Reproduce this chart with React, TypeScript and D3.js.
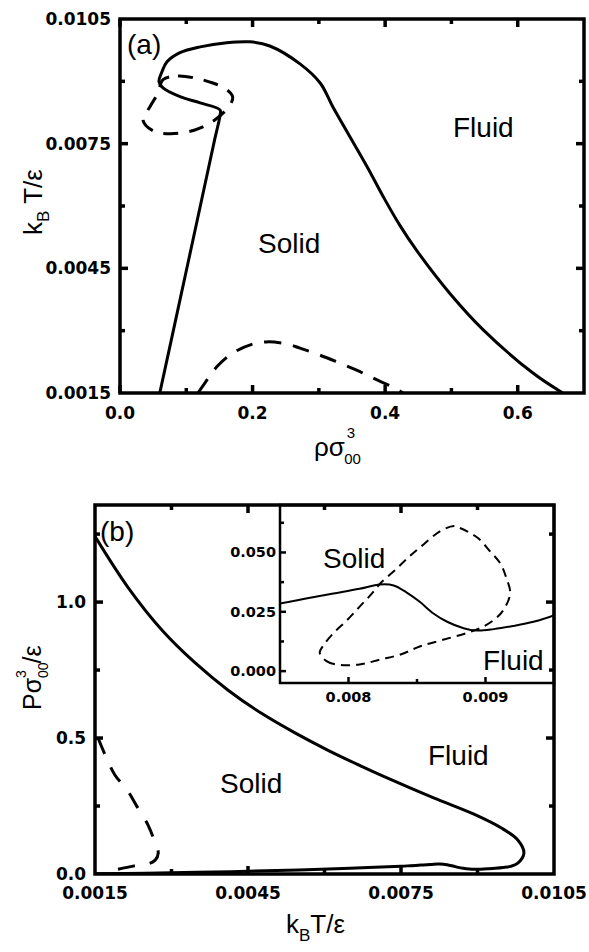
import * as d3 from "d3";

type Pt = [number, number];

// ---- panel (a): density vs temperature ----
const A_RHO_MAJOR = [0, 0.2, 0.4, 0.6];
const A_RHO_MINOR = [0.1, 0.3, 0.5];
const A_T_MAJOR = [0.0015, 0.0045, 0.0075, 0.0105];
const A_T_MINOR = [0.003, 0.006, 0.009];

// [rho, T]
const A_SOLID: Pt[] = [
  [0.06, 0.0015], [0.0905, 0.00374], [0.1232, 0.00615], [0.1427, 0.00759],
  [0.151, 0.00819], [0.151, 0.00831], [0.121, 0.00848], [0.0905, 0.00863],
  [0.0649, 0.00884], [0.0588, 0.00899], [0.0633, 0.00923], [0.0709, 0.00947],
  [0.0905, 0.00969], [0.121, 0.00983], [0.161, 0.00993], [0.196, 0.00995],
  [0.226, 0.00985], [0.2715, 0.00942], [0.302, 0.00896], [0.321, 0.00839],
  [0.373, 0.00694], [0.398, 0.0062], [0.422, 0.00554], [0.448, 0.00492],
  [0.498, 0.00389], [0.548, 0.00302], [0.623, 0.00198], [0.668, 0.0015],
];

const A_DASH_LOOP: Pt[] = [
  [0.0649, 0.00904], [0.0875, 0.00913], [0.113, 0.00908], [0.14, 0.00896],
  [0.161, 0.0088], [0.17, 0.00863], [0.166, 0.00843], [0.143, 0.00807],
  [0.113, 0.00783], [0.0754, 0.00774], [0.0498, 0.00781], [0.0347, 0.00807],
  [0.0452, 0.00839], [0.0573, 0.00872],
];

const A_DASH_ARCH: Pt[] = [
  [0.1176, 0.0015], [0.128, 0.00174], [0.146, 0.00213], [0.17, 0.00246],
  [0.2006, 0.00268], [0.2217, 0.00273], [0.252, 0.00268], [0.2715, 0.00258],
  [0.3017, 0.00241], [0.327, 0.00225], [0.357, 0.00205], [0.3816, 0.00186],
  [0.4118, 0.00164], [0.427, 0.0015],
];

// ---- panel (b): temperature vs pressure ----
const B_T_MAJOR = [0.0015, 0.0045, 0.0075, 0.0105];
const B_T_MINOR = [0.003, 0.006, 0.009];
const B_P_MAJOR = [0, 0.5, 1.0];
const B_P_MINOR = [0.25, 0.75, 1.25];

// [T, P]
const B_SOLID: Pt[] = [
  [0.0015, 1.242], [0.00215, 1.0535], [0.00282, 0.8955], [0.00346, 0.777],
  [0.00411, 0.676], [0.00478, 0.589], [0.00543, 0.518], [0.00608, 0.454],
  [0.00675, 0.394], [0.00716, 0.359], [0.00814, 0.28], [0.00893, 0.22],
  [0.00946, 0.17], [0.00979, 0.125], [0.00991, 0.077], [0.00979, 0.04],
  [0.00965, 0.028], [0.0095, 0.0236], [0.00935, 0.0208], [0.0092, 0.019],
  [0.00906, 0.0177], [0.00894, 0.0171], [0.00884, 0.0181], [0.00872, 0.0208],
  [0.00862, 0.0243], [0.00852, 0.0292], [0.00842, 0.0333], [0.00833, 0.0361],
  [0.00823, 0.0365], [0.00808, 0.0347], [0.00789, 0.0327], [0.00769, 0.0306],
  [0.0075, 0.0285], [0.0065, 0.021], [0.0055, 0.015], [0.0045, 0.01],
  [0.0035, 0.006], [0.0025, 0.003], [0.0015, 0.001],
];

const B_DASH: Pt[] = [
  [0.00156, 0.5], [0.0017, 0.4375], [0.00189, 0.364], [0.00213, 0.309],
  [0.00233, 0.246], [0.00254, 0.18], [0.00268, 0.114], [0.00274, 0.077],
  [0.00268, 0.051], [0.00254, 0.037], [0.00225, 0.029], [0.00189, 0.015],
];

// inset
const I_T_MAJOR = [0.008, 0.009];
const I_T_MINOR = [0.0085];
const I_P_MAJOR = [0, 0.025, 0.05];
const I_P_MINOR = [0.0125, 0.0375, 0.0625];

const I_DASH_LOOP: Pt[] = [
  [0.00779, 0.0077], [0.00784, 0.0042], [0.00791, 0.0028], [0.00808, 0.0028],
  [0.00823, 0.0049], [0.00838, 0.007], [0.00852, 0.0104], [0.00869, 0.0132],
  [0.00886, 0.016], [0.00896, 0.0181], [0.00906, 0.0215], [0.00913, 0.0257],
  [0.00918, 0.0327], [0.00915, 0.0396], [0.00911, 0.0452], [0.00903, 0.0507],
  [0.00894, 0.0563], [0.00881, 0.0604], [0.00877, 0.0611], [0.00867, 0.059],
  [0.00855, 0.0535], [0.00845, 0.0486], [0.00835, 0.0431], [0.00823, 0.0368],
  [0.00816, 0.032], [0.00808, 0.0271], [0.00799, 0.0215], [0.00789, 0.016],
  [0.00782, 0.0111],
];

const TICK_FONT = "'DejaVu Sans', sans-serif";
const TEXT_FONT = "'Liberation Sans', Arial, sans-serif";

type Lin = d3.ScaleLinear<number, number>;

function Frame({ x, y, xMajor, xMinor, yMajor, yMinor, sides, sw, major, minor }: {
  x: Lin; y: Lin; xMajor: number[]; xMinor: number[]; yMajor: number[]; yMinor: number[];
  sides: string; sw: number; major: number; minor: number;
}) {
  const [x0, x1] = x.range();
  const [y0, y1] = y.range(); // y0 = bottom, y1 = top
  const lines: JSX.Element[] = [];
  const xt = (v: number, len: number, k: string) => {
    if (sides.includes("b")) lines.push(<line key={"b" + k} x1={x(v)} x2={x(v)} y1={y0} y2={y0 - len} />);
    if (sides.includes("t")) lines.push(<line key={"t" + k} x1={x(v)} x2={x(v)} y1={y1} y2={y1 + len} />);
  };
  const yt = (v: number, len: number, k: string) => {
    if (sides.includes("l")) lines.push(<line key={"l" + k} x1={x0} x2={x0 + len} y1={y(v)} y2={y(v)} />);
    if (sides.includes("r")) lines.push(<line key={"r" + k} x1={x1} x2={x1 - len} y1={y(v)} y2={y(v)} />);
  };
  xMajor.forEach((v, i) => xt(v, major, "M" + i));
  xMinor.forEach((v, i) => xt(v, minor, "m" + i));
  yMajor.forEach((v, i) => yt(v, major, "M" + i));
  yMinor.forEach((v, i) => yt(v, minor, "m" + i));
  return (
    <g stroke="#000" fill="none">
      <g strokeWidth={sw}>{lines}</g>
      <rect x={x0} y={y1} width={x1 - x0} height={y0 - y1} strokeWidth={sw} />
    </g>
  );
}

export default function App() {
  // panel (a)
  const xa = d3.scaleLinear().domain([0, 0.7]).range([120, 584]);
  const ya = d3.scaleLinear().domain([0.0015, 0.0105]).range([393, 19]);
  const lineA = d3.line<Pt>().x(d => xa(d[0])).y(d => ya(d[1])).curve(d3.curveCatmullRom.alpha(0.5));
  const loopA = d3.line<Pt>().x(d => xa(d[0])).y(d => ya(d[1])).curve(d3.curveCatmullRomClosed.alpha(0.5));

  // panel (b)
  const xb = d3.scaleLinear().domain([0.0015, 0.0105]).range([95, 554]);
  const yb = d3.scaleLinear().domain([0, 1.357]).range([874, 505]);
  const lineB = d3.line<Pt>().x(d => xb(d[0])).y(d => yb(d[1])).curve(d3.curveCatmullRom.alpha(0.5));

  // inset
  const xi = d3.scaleLinear().domain([0.0075, 0.0095]).range([280, 554]);
  const yi = d3.scaleLinear().domain([-0.005, 0.07]).range([683, 505]);
  const lineI = d3.line<Pt>().x(d => xi(d[0])).y(d => yi(d[1])).curve(d3.curveCatmullRom.alpha(0.5));
  const loopI = d3.line<Pt>().x(d => xi(d[0])).y(d => yi(d[1])).curve(d3.curveCatmullRomClosed.alpha(0.5));

  const f4 = d3.format(".4f");
  const f1 = d3.format(".1f");
  const f3 = d3.format(".3f");

  return (
    <svg width={589} height={952} style={{ position: "absolute", left: 0, top: 0, background: "#fff" }}>
      <defs>
        <clipPath id="clipA"><rect x={120} y={19} width={464} height={374} /></clipPath>
        <clipPath id="clipB"><rect x={95} y={505} width={459} height={369} /></clipPath>
        <clipPath id="clipI"><rect x={280} y={505} width={274} height={178} /></clipPath>
      </defs>

      {/* ---------- panel (a) ---------- */}
      <g clipPath="url(#clipA)" fill="none" stroke="#000">
        <path d={lineA(A_SOLID) ?? ""} strokeWidth={3} />
        <path d={loopA(A_DASH_LOOP) ?? ""} strokeWidth={3} strokeDasharray="15,11" />
        <path d={lineA(A_DASH_ARCH) ?? ""} strokeWidth={3} strokeDasharray="17,12" />
      </g>
      <Frame x={xa} y={ya} xMajor={A_RHO_MAJOR} xMinor={A_RHO_MINOR} yMajor={A_T_MAJOR.slice(1, 3)}
        yMinor={A_T_MINOR} sides="lrtb" sw={3.5} major={8} minor={5} />
      <g fontFamily={TICK_FONT} fontWeight="bold" fontSize={17}>
        {A_RHO_MAJOR.map(v => (
          <text key={v} x={xa(v)} y={413} textAnchor="middle" dominantBaseline="central">{f1(v)}</text>
        ))}
        {A_T_MAJOR.map(v => (
          <text key={v} x={111} y={ya(v)} textAnchor="end" dominantBaseline="central">{f4(v)}</text>
        ))}
      </g>
      <g fontFamily={TEXT_FONT}>
        <text x={127} y={54} fontSize={28}>(a)</text>
        <text x={258} y={253} fontSize={28}>Solid</text>
        <text x={453} y={137} fontSize={28}>Fluid</text>
        <text transform="translate(42,202) rotate(-90)" textAnchor="middle" fontSize={26}>
          k<tspan fontSize={17} dy={7}>B</tspan><tspan dy={-7}> T/ε</tspan>
        </text>
        <text x={314} y={456} fontSize={26}>
          ρσ<tspan fontSize={15} dy={-18} dx={2}>3</tspan><tspan fontSize={15} dy={26} dx={-11}>00</tspan>
        </text>
      </g>

      {/* ---------- panel (b) ---------- */}
      <g clipPath="url(#clipB)" fill="none" stroke="#000">
        <path d={lineB(B_SOLID) ?? ""} strokeWidth={3} />
        <path d={lineB(B_DASH) ?? ""} strokeWidth={3} strokeDasharray="17,15" />
      </g>

      {/* inset */}
      <rect x={280} y={505} width={274} height={178} fill="#fff" />
      <g clipPath="url(#clipI)" fill="none" stroke="#000">
        <path d={lineI(B_SOLID) ?? ""} strokeWidth={2} />
        <path d={loopI(I_DASH_LOOP) ?? ""} strokeWidth={2} strokeDasharray="9,6" />
      </g>
      <Frame x={xi} y={yi} xMajor={I_T_MAJOR} xMinor={I_T_MINOR} yMajor={I_P_MAJOR} yMinor={I_P_MINOR}
        sides="lb" sw={2.5} major={6} minor={4} />
      <g fontFamily={TICK_FONT} fontWeight="bold" fontSize={14.5}>
        {I_T_MAJOR.map(v => (
          <text key={v} x={xi(v)} y={697} textAnchor="middle" dominantBaseline="central">{f3(v)}</text>
        ))}
        {I_P_MAJOR.map(v => (
          <text key={v} x={276} y={yi(v)} textAnchor="end" dominantBaseline="central">{f3(v)}</text>
        ))}
      </g>

      <Frame x={xb} y={yb} xMajor={B_T_MAJOR.slice(1, 3)} xMinor={B_T_MINOR} yMajor={B_P_MAJOR.slice(1)}
        yMinor={B_P_MINOR} sides="lrtb" sw={3.5} major={8} minor={5} />
      <g fontFamily={TICK_FONT} fontWeight="bold" fontSize={17}>
        {B_T_MAJOR.map(v => (
          <text key={v} x={xb(v)} y={893} textAnchor="middle" dominantBaseline="central">{f4(v)}</text>
        ))}
        {B_P_MAJOR.map(v => (
          <text key={v} x={86} y={yb(v)} textAnchor="end" dominantBaseline="central">{f1(v)}</text>
        ))}
      </g>
      <g fontFamily={TEXT_FONT}>
        <text x={100} y={541} fontSize={28}>(b)</text>
        <text x={220} y={793} fontSize={28}>Solid</text>
        <text x={428} y={765} fontSize={28}>Fluid</text>
        <text x={323} y={568} fontSize={28}>Solid</text>
        <text x={483} y={670} fontSize={28}>Fluid</text>
        <text transform="translate(41,710) rotate(-90)" fontSize={25}>
          Pσ<tspan fontSize={14} dy={-15} dx={0}>3</tspan><tspan fontSize={14} dy={22} dx={-8}>00</tspan>
          <tspan dy={-7} dx={-1}>/ε</tspan>
        </text>
        <text x={286} y={933} fontSize={26}>
          k<tspan fontSize={17} dy={8}>B</tspan><tspan dy={-8}>T/ε</tspan>
        </text>
      </g>
    </svg>
  );
}
